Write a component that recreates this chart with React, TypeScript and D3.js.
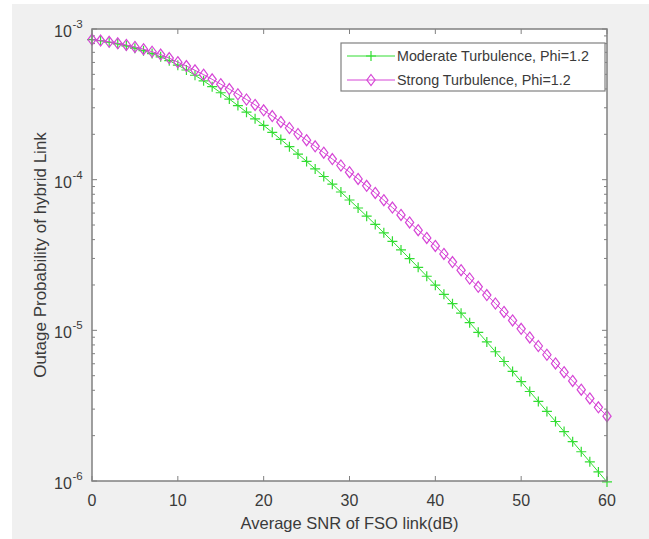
import React from "react";
import * as d3 from "d3";

// Average SNR of the FSO link, one marker per dB
const snr = d3.range(0, 61);

// log10 of the outage probability for each dB step
const moderateExp = [
  -3.07, -3.078, -3.088, -3.099, -3.112, -3.127, -3.144, -3.163, -3.185, -3.21,
  -3.24, -3.272, -3.307, -3.344, -3.383, -3.423, -3.465, -3.508, -3.552, -3.596,
  -3.64, -3.686, -3.733, -3.781, -3.83, -3.879, -3.929, -3.979, -4.03, -4.082,
  -4.135, -4.188, -4.242, -4.297, -4.353, -4.409, -4.466, -4.524, -4.582, -4.641,
  -4.7, -4.761, -4.823, -4.886, -4.949, -5.013, -5.077, -5.142, -5.207, -5.273,
  -5.34, -5.406, -5.472, -5.538, -5.605, -5.672, -5.739, -5.806, -5.873, -5.94,
  -6.006,
];
const strongExp = [
  -3.07, -3.077, -3.085, -3.095, -3.106, -3.119, -3.134, -3.151, -3.17, -3.193,
  -3.22, -3.246, -3.274, -3.303, -3.334, -3.366, -3.399, -3.433, -3.468, -3.504,
  -3.54, -3.578, -3.617, -3.657, -3.697, -3.738, -3.779, -3.821, -3.863, -3.906,
  -3.95, -3.995, -4.041, -4.088, -4.136, -4.185, -4.234, -4.284, -4.335, -4.387,
  -4.44, -4.493, -4.547, -4.601, -4.656, -4.711, -4.766, -4.822, -4.878, -4.934,
  -4.99, -5.047, -5.104, -5.162, -5.22, -5.278, -5.336, -5.394, -5.452, -5.511,
  -5.57,
];

const xTicks = [0, 10, 20, 30, 40, 50, 60];
const yTickExps = [-3, -4, -5, -6];
const seriesNames = ["Moderate Turbulence, Phi=1.2", "Strong Turbulence, Phi=1.2"];

const W = 649;
const H = 539;
const margin = { left: 92, right: 607, top: 29, bottom: 481 };
const green = "#33dd33";
const magenta = "#d646d6";
const axisColor = "#808080";
const textColor = "#3a3a3a";
const font = "'Liberation Sans', Arial, sans-serif";

const x = d3.scaleLinear().domain([0, 60]).range([margin.left, margin.right]);
const y = d3.scaleLog().domain([1e-6, 1e-3]).range([margin.bottom, margin.top]);

const moderate = snr.map((s, i) => ({ s, p: 10 ** moderateExp[i] }));
const strong = snr.map((s, i) => ({ s, p: 10 ** strongExp[i] }));

const line = d3
  .line<{ s: number; p: number }>()
  .x((d) => x(d.s))
  .y((d) => y(d.p));

const Plus = ({ cx, cy, r = 5 }: { cx: number; cy: number; r?: number }) => (
  <path d={`M${cx - r},${cy}H${cx + r}M${cx},${cy - r}V${cy + r}`} stroke={green} strokeWidth={1.2} fill="none" />
);

const Diamond = ({ cx, cy, r = 5.5 }: { cx: number; cy: number; r?: number }) => (
  <path
    d={`M${cx},${cy - r}L${cx + r * 0.75},${cy}L${cx},${cy + r}L${cx - r * 0.75},${cy}Z`}
    stroke={magenta}
    strokeWidth={1.2}
    fill="none"
  />
);

export default function App() {
  // log minor ticks
  const minor: number[] = [];
  for (let e = -6; e < -3; e++) {
    for (let k = 2; k <= 9; k++) minor.push(k * 10 ** e);
  }

  return (
    <svg width={W} height={H} style={{ position: "absolute", left: 0, top: 0, fontFamily: font }}>
      <rect x={0} y={0} width={W} height={H} fill="#ffffff" />
      <rect x={12} y={4} width={W - 12} height={H - 4} fill="#f0f0f0" />
      <rect
        x={margin.left}
        y={margin.top}
        width={margin.right - margin.left}
        height={margin.bottom - margin.top}
        fill="#ffffff"
      />

      {/* ticks */}
      {xTicks.map((t) => (
        <g key={"x" + t}>
          <line x1={x(t)} x2={x(t)} y1={margin.bottom} y2={margin.bottom - 5} stroke={axisColor} />
          <line x1={x(t)} x2={x(t)} y1={margin.top} y2={margin.top + 5} stroke={axisColor} />
          <text x={x(t)} y={margin.bottom + 25} textAnchor="middle" fontSize={16} fill={textColor}>
            {t}
          </text>
        </g>
      ))}
      {minor.map((v, i) => (
        <g key={"m" + i}>
          <line x1={margin.left} x2={margin.left + 3} y1={y(v)} y2={y(v)} stroke={axisColor} />
          <line x1={margin.right} x2={margin.right - 3} y1={y(v)} y2={y(v)} stroke={axisColor} />
        </g>
      ))}
      {yTickExps.map((e) => (
        <g key={"y" + e}>
          <line x1={margin.left} x2={margin.left + 5} y1={y(10 ** e)} y2={y(10 ** e)} stroke={axisColor} />
          <line x1={margin.right} x2={margin.right - 5} y1={y(10 ** e)} y2={y(10 ** e)} stroke={axisColor} />
          <text x={54} y={y(10 ** e) + 8} fontSize={16} fill={textColor}>
            10
          </text>
          <text x={72.5} y={y(10 ** e) - 1} fontSize={11.5} fill={textColor}>
            {e}
          </text>
        </g>
      ))}

      {/* series */}
      <path d={line(moderate) ?? ""} stroke={green} strokeWidth={1} fill="none" />
      {moderate.map((d) => (
        <Plus key={"g" + d.s} cx={x(d.s)} cy={y(d.p)} />
      ))}
      <path d={line(strong) ?? ""} stroke={magenta} strokeWidth={1} fill="none" />
      {strong.map((d) => (
        <Diamond key={"d" + d.s} cx={x(d.s)} cy={y(d.p)} />
      ))}

      {/* axes box */}
      <rect
        x={margin.left}
        y={margin.top}
        width={margin.right - margin.left}
        height={margin.bottom - margin.top}
        fill="none"
        stroke={axisColor}
        strokeWidth={1.5}
      />

      {/* legend */}
      <g>
        <rect x={341} y={43} width={264} height={48} fill="#ffffff" stroke={axisColor} strokeWidth={1.2} />
        <line x1={347} x2={395} y1={56} y2={56} stroke={green} />
        <Plus cx={371} cy={56} />
        <text x={397} y={61} fontSize={14.3} fill={textColor}>
          {seriesNames[0]}
        </text>
        <line x1={347} x2={395} y1={80} y2={80} stroke={magenta} />
        <Diamond cx={371} cy={80} />
        <text x={397} y={85} fontSize={14.3} fill={textColor}>
          {seriesNames[1]}
        </text>
      </g>

      {/* axis labels */}
      <text x={(margin.left + margin.right) / 2} y={529} textAnchor="middle" fontSize={16.5} fill={textColor}>
        Average SNR of FSO link(dB)
      </text>
      <text
        transform={`translate(46, ${(margin.top + margin.bottom) / 2}) rotate(-90)`}
        textAnchor="middle"
        fontSize={17}
        fill={textColor}
      >
        Outage Probability of hybrid Link
      </text>
    </svg>
  );
}
